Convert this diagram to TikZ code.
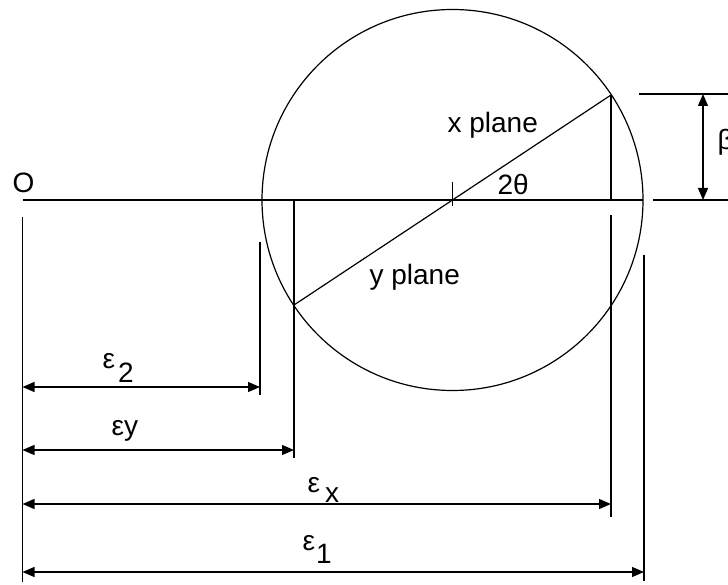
\documentclass[tikz,border=0pt]{standalone}
\usepackage{fontspec}
\setmainfont{Liberation Sans}
\usetikzlibrary{arrows.meta}
\begin{document}
\begin{tikzpicture}[x=1pt,y=-1pt,line width=1.2pt,
  tip/.style={Triangle[length=12pt,width=10pt]},
  dimline/.style={{Triangle[length=12pt,width=10pt]}-{Triangle[length=12pt,width=10pt]}},
  lbl/.style={inner sep=0pt,anchor=base west,font=\fontsize{28}{30}\selectfont}]
\useasboundingbox (0,0) rectangle (728,585);
% main geometry
\coordinate (C) at (452.5,200);
\coordinate (X) at (611,95);
\coordinate (Y) at (294,305);
\coordinate (Oax) at (22.5,200);
\coordinate (Rax) at (643,200);
\coordinate (Ctop) at (452.5,182);
\coordinate (Cbot) at (452.5,206);
\coordinate (Xf) at (611,200);
\coordinate (Yf) at (294,200);
% extension lines
\coordinate (Oe1) at (22.5,217);   \coordinate (Oe2) at (22.5,582);
\coordinate (E2a) at (260,242);    \coordinate (E2b) at (260,395);
\coordinate (Yb)  at (294,458);
\coordinate (Exa) at (611,215);    \coordinate (Exb) at (611,517);
\coordinate (E1a) at (644,255);    \coordinate (E1b) at (644,581);
\coordinate (Bt1) at (639,94);     \coordinate (Bt2) at (728,94);
\coordinate (Bb1) at (653,200);    \coordinate (Bb2) at (728,200);
% dimension arrow ends
\coordinate (d2l) at (22.5,387);   \coordinate (d2r) at (260,387);
\coordinate (dyl) at (22.5,450);   \coordinate (dyr) at (294,450);
\coordinate (dxl) at (22.5,504);   \coordinate (dxr) at (611,504);
\coordinate (d1l) at (22.5,572);   \coordinate (d1r) at (644,572);
\coordinate (dbt) at (703,94);     \coordinate (dbb) at (703,200);

\draw (Oax) -- (Rax);
\draw (C) circle[radius=190.5];
\draw (X) -- (Y);
\draw (Ctop) -- (Cbot);
\draw (X) -- (Xf);
\draw (Yf) -- (Yb);
\draw (Oe1) -- (Oe2);
\draw (E2a) -- (E2b);
\draw (Exa) -- (Exb);
\draw (E1a) -- (E1b);
\draw (Bt1) -- (Bt2);
\draw (Bb1) -- (Bb2);
\draw[dimline] (d2l) -- (d2r);
\draw[dimline] (dyl) -- (dyr);
\draw[dimline] (dxl) -- (dxr);
\draw[dimline] (d1l) -- (d1r);
\draw[dimline] (dbt) -- (dbb);

\node[lbl] (lO) at (12,192.5) {O};
\node[lbl] (lxp) at (447,133) {x plane};
\node[lbl] (lyp) at (369,285) {y plane};
\node[lbl] (lth) at (497,195) {2θ};
\node[lbl] (lb) at (717,150) {β};
\node[lbl] (le2) at (102,368) {ε\kern3pt\raisebox{-14pt}{2}};
\node[lbl] (ley) at (111,435) {εy};
\node[lbl] (lex) at (307,492) {ε\kern5pt\raisebox{-10pt}{x}};
\node[lbl] (le1) at (302,550) {ε\kern1pt\raisebox{-13pt}{1}};
\end{tikzpicture}
\end{document}
